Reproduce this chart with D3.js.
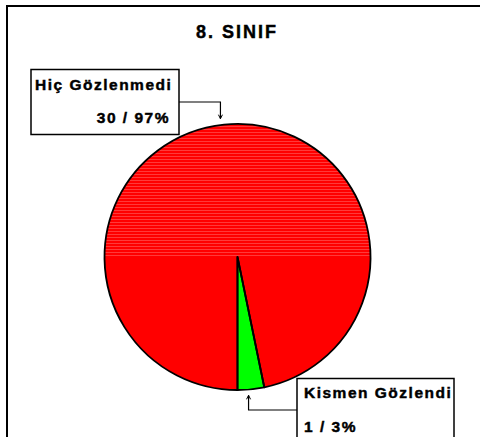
<!DOCTYPE html>
<html>
<head>
<meta charset="utf-8">
<script src="https://cdn.jsdelivr.net/npm/d3@7.9.0/dist/d3.min.js"></script>
<style>
  html, body { margin: 0; padding: 0; background: #fff; overflow: hidden; }
  text { font-family: "Liberation Sans", Arial, sans-serif; font-weight: bold; fill: #000; stroke: #000; stroke-width: 0.45px; }
</style>
</head>
<body>
<svg id="chart" width="480" height="437"></svg>
<script>
const title = '8. SINIF';
const categories = ['Hiç Gözlenmedi', 'Kismen Gözlendi'];
const counts = [30, 1];
const percents = ['97%', '3%'];
const sliceColors = ['#ff0000', '#00ff00'];

const cx = 237.5, cy = 257, radius = 133;

const svg = d3.select('#chart');

// streaky shading on the upper half of the red slice
const defs = svg.append('defs');
const pat = defs.append('pattern')
  .attr('id', 'streaks').attr('patternUnits', 'userSpaceOnUse')
  .attr('width', 8).attr('height', 3);
pat.append('rect').attr('width', 8).attr('height', 3).attr('fill', '#ff0000');
pat.append('rect').attr('y', 1).attr('width', 8).attr('height', 1).attr('fill', '#ff3a3a');

// outer frame (runs past the right and bottom edges)
svg.append('rect')
  .attr('x', 7).attr('y', 6)
  .attr('width', 520).attr('height', 520)
  .attr('fill', 'none').attr('stroke', '#000').attr('stroke-width', 2);

svg.append('text')
  .attr('x', 237).attr('y', 38)
  .attr('text-anchor', 'middle')
  .attr('font-size', 18)
  .attr('letter-spacing', 2)
  .text(title);

// pie starts at the bottom and runs clockwise
const pie = d3.pie().sort(null).startAngle(Math.PI).endAngle(3 * Math.PI);
const arcs = pie(counts);
const arc = d3.arc().innerRadius(0).outerRadius(radius);

const g = svg.append('g').attr('transform', `translate(${cx},${cy})`);
g.selectAll('path.slice')
  .data(arcs)
  .join('path')
  .attr('class', 'slice')
  .attr('d', arc)
  .attr('fill', (d, i) => sliceColors[i]);

defs.append('clipPath').attr('id', 'upper')
  .append('rect').attr('x', -radius).attr('y', -radius)
  .attr('width', radius * 2).attr('height', radius);
g.append('path')
  .attr('d', arc(arcs[0]))
  .attr('fill', 'url(#streaks)')
  .attr('clip-path', 'url(#upper)');

g.selectAll('path.edge')
  .data(arcs)
  .join('path')
  .attr('class', 'edge')
  .attr('d', arc)
  .attr('fill', 'none')
  .attr('stroke', '#000')
  .attr('stroke-width', 1.8)
  .attr('stroke-linejoin', 'round');

// label boxes and leader lines
const labelBoxes = [
  { x: 31, y: 69.5, w: 148, h: 65, line1: [35, 90, 'start'], line2: [170, 123, 'end'], side: 'right', ly: 102 },
  { x: 297, y: 378.5, w: 157, h: 80, line1: [304, 398, 'start'], line2: [304, 432, 'start'], side: 'left', ly: 410 }
];

arcs.forEach((d, i) => {
  const b = labelBoxes[i];
  const mid = (d.startAngle + d.endAngle) / 2;
  const px = cx + Math.sin(mid) * (radius + 6) - 3;
  const py = cy - Math.cos(mid) * (radius + 6);
  const bx = b.side === 'right' ? b.x + b.w : b.x;
  svg.append('path')
    .attr('d', `M${bx},${b.ly}H${px}V${py}`)
    .attr('fill', 'none').attr('stroke', '#000').attr('stroke-width', 1.2);
  const dir = py > b.ly ? 1 : -1;
  svg.append('path')
    .attr('d', `M${px - 2},${py - 4 * dir}L${px},${py}L${px + 2},${py - 4 * dir}`)
    .attr('fill', 'none').attr('stroke', '#000').attr('stroke-width', 1);

  svg.append('rect')
    .attr('x', b.x).attr('y', b.y).attr('width', b.w).attr('height', b.h)
    .attr('fill', '#fff').attr('stroke', '#000').attr('stroke-width', 1.5);
  svg.append('text')
    .attr('x', b.line1[0]).attr('y', b.line1[1])
    .attr('text-anchor', b.line1[2])
    .attr('font-size', 15.5).attr('letter-spacing', 1.5)
    .text(categories[i]);
  svg.append('text')
    .attr('x', b.line2[0]).attr('y', b.line2[1])
    .attr('text-anchor', b.line2[2])
    .attr('font-size', 15.5).attr('letter-spacing', 1.5)
    .text(`${counts[i]} / ${percents[i]}`);
});
</script>
</body>
</html>
